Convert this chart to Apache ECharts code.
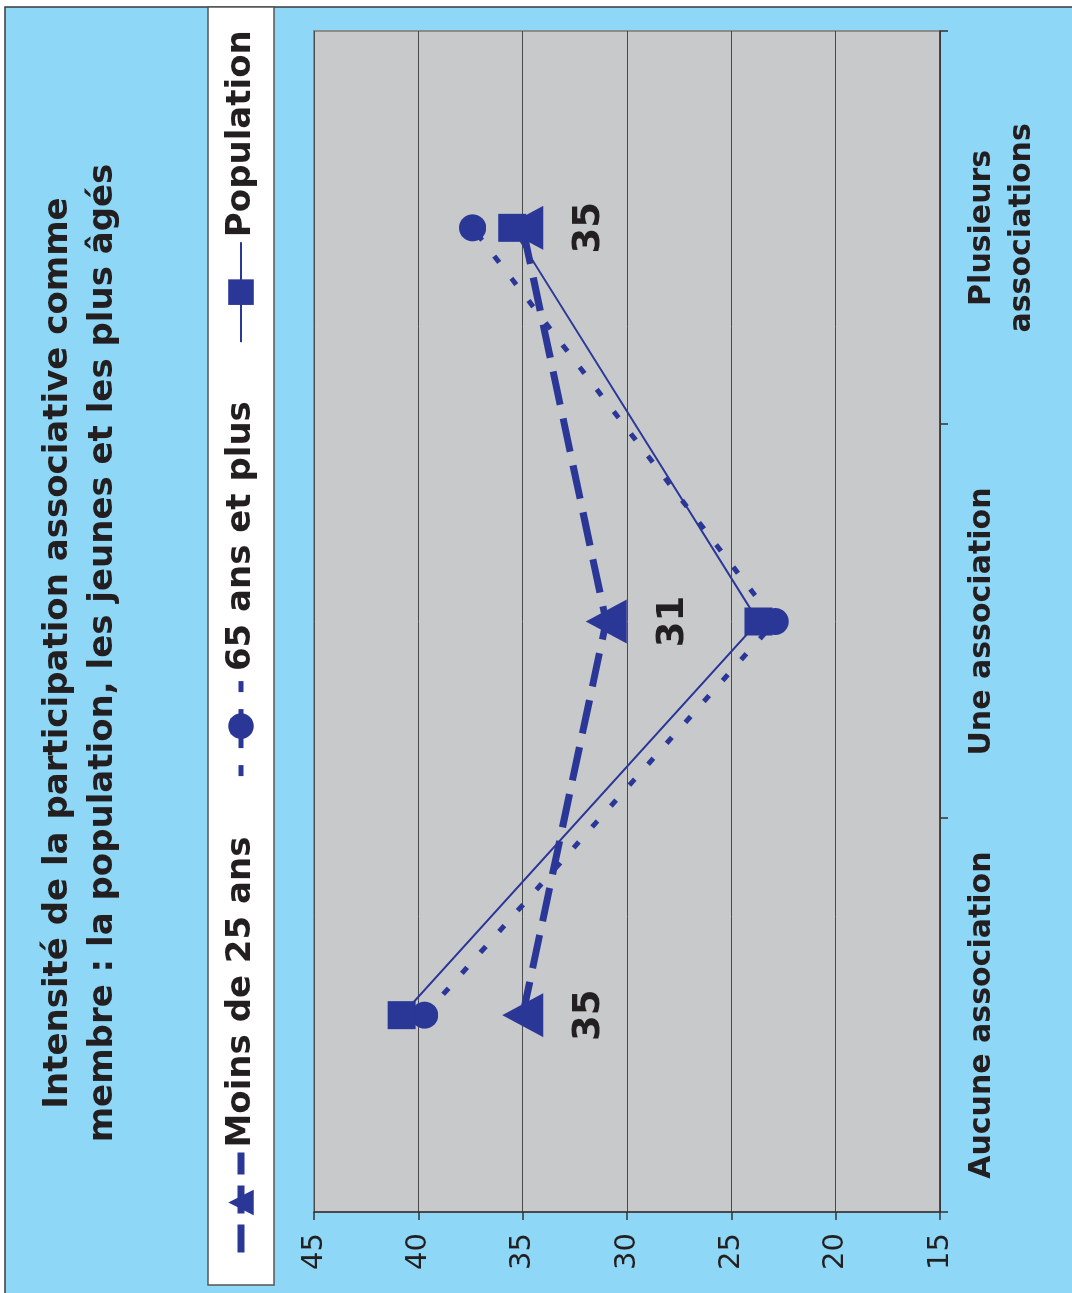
<!DOCTYPE html>
<html>
<head>
<meta charset="utf-8">
<script src="https://cdn.jsdelivr.net/npm/echarts@6/dist/echarts.min.js"></script>
<style>
  html, body { margin: 0; padding: 0; background: #ffffff; overflow: hidden; }
  body { width: 1072px; height: 1293px; position: relative; }
  /* the chart is laid out landscape, then turned a quarter-turn counter-clockwise */
  #chart {
    position: absolute; left: 0; top: 0;
    width: 1293px; height: 1072px;
    transform-origin: 0 0;
    transform: translateY(1293px) rotate(-90deg);
  }
</style>
</head>
<body>
<div id="chart"></div>
<script>
// Participation associative : part (%) selon le nombre d'associations
const categories = ['Aucune association', 'Une association', 'Plusieurs\nassociations'];
const seriesNames = ['Moins de 25 ans', '65 ans et plus', 'Population'];
const moins25 = [35, 31, 35];
const plus65 = [39.7, 22.9, 37.4];
const population = [40.8, 23.7, 35.5];
const yTicks = { min: 15, max: 45, step: 5 };
const titleLines = [
  'Intensité de la participation associative comme',
  'membre : la population, les jeunes et les plus âgés'
];

const BLUE = '#2b3797';
const INK = '#231f20';
const FONT = '"DejaVu Sans", Verdana, sans-serif';

// line look of each series in the plot
const styles = [
  { width: 7, type: [34, 14] },
  { width: 5, type: [8, 20] },
  { width: 2, type: 'solid' }
];

const chart = echarts.init(document.getElementById('chart'), null, { renderer: 'canvas' });

chart.setOption({
  backgroundColor: '#ffffff',
  animation: false,
  graphic: [
    { // panel background with its frame
      type: 'rect', z: -100,
      shape: { x: -10, y: 5, width: 1296, height: 1080 },
      style: { fill: '#8fd7f6', stroke: '#3a3a3a', lineWidth: 1.5 }
    },
    { // legend box
      type: 'rect', z: -50,
      shape: { x: 8, y: 208, width: 1278, height: 66 },
      style: { fill: '#ffffff', stroke: '#555555', lineWidth: 1.5 }
    },
    {
      type: 'text', z: 10,
      x: 640, y: 36,
      style: {
        text: titleLines.join('\n'),
        fill: INK,
        fontFamily: FONT, fontSize: 34, fontWeight: 'bold',
        lineHeight: 45,
        align: 'center', verticalAlign: 'top'
      }
    }
  ],
  legend: {
    data: [
      { name: seriesNames[0], lineStyle: { color: BLUE, width: 7, type: [28, 11], cap: 'butt' } },
      { name: seriesNames[1], lineStyle: { color: BLUE, width: 5, type: [11, 17], cap: 'butt' } },
      { name: seriesNames[2], lineStyle: { color: BLUE, width: 2, type: 'solid' } }
    ],
    left: 37, top: 224,
    padding: 0,
    itemGap: 58,
    itemWidth: 100, itemHeight: 32,
    textStyle: { color: INK, fontFamily: FONT, fontSize: 34, fontWeight: 'bold', lineHeight: 34 }
  },
  grid: {
    left: 81, top: 314, width: 1181, height: 626,
    show: true, backgroundColor: '#c8c9cb',
    borderColor: '#8c8c8c', borderWidth: 2
  },
  xAxis: {
    type: 'category',
    data: categories,
    boundaryGap: true,
    axisLine: { show: true, lineStyle: { color: '#333333', width: 1.5 } },
    axisTick: { show: true, length: 8, lineStyle: { color: '#333333', width: 1.5 } },
    axisLabel: {
      interval: 0, margin: 22,
      color: INK, fontFamily: FONT, fontSize: 30, fontWeight: 'bold',
      lineHeight: 40, verticalAlign: 'top'
    },
    splitLine: { show: false }
  },
  yAxis: {
    type: 'value',
    min: yTicks.min, max: yTicks.max, interval: yTicks.step,
    axisLine: { show: true, lineStyle: { color: '#333333', width: 1.5 } },
    axisTick: { show: true, length: 8, lineStyle: { color: '#333333', width: 1.5 } },
    axisLabel: { margin: 21, color: INK, fontFamily: FONT, fontSize: 29 },
    splitLine: { show: true, lineStyle: { color: '#4a4a4a', width: 1 } }
  },
  series: [
    {
      name: seriesNames[0], type: 'line', data: moins25,
      symbol: 'triangle', symbolSize: [44, 41],
      itemStyle: { color: BLUE },
      lineStyle: { color: BLUE, width: styles[0].width, type: styles[0].type, cap: 'butt' },
      label: {
        show: true, position: 'inside', offset: [0, 67],
        color: INK, fontFamily: FONT, fontSize: 37, fontWeight: 'bold'
      },
      z: 3
    },
    {
      name: seriesNames[1], type: 'line', data: plus65,
      symbol: 'circle', symbolSize: 27,
      itemStyle: { color: BLUE },
      lineStyle: { color: BLUE, width: styles[1].width, type: styles[1].type, cap: 'butt' },
      z: 4
    },
    {
      name: seriesNames[2], type: 'line', data: population,
      symbol: 'rect', symbolSize: 28,
      itemStyle: { color: BLUE },
      lineStyle: { color: BLUE, width: styles[2].width },
      z: 5
    }
  ]
});
</script>
</body>
</html>
